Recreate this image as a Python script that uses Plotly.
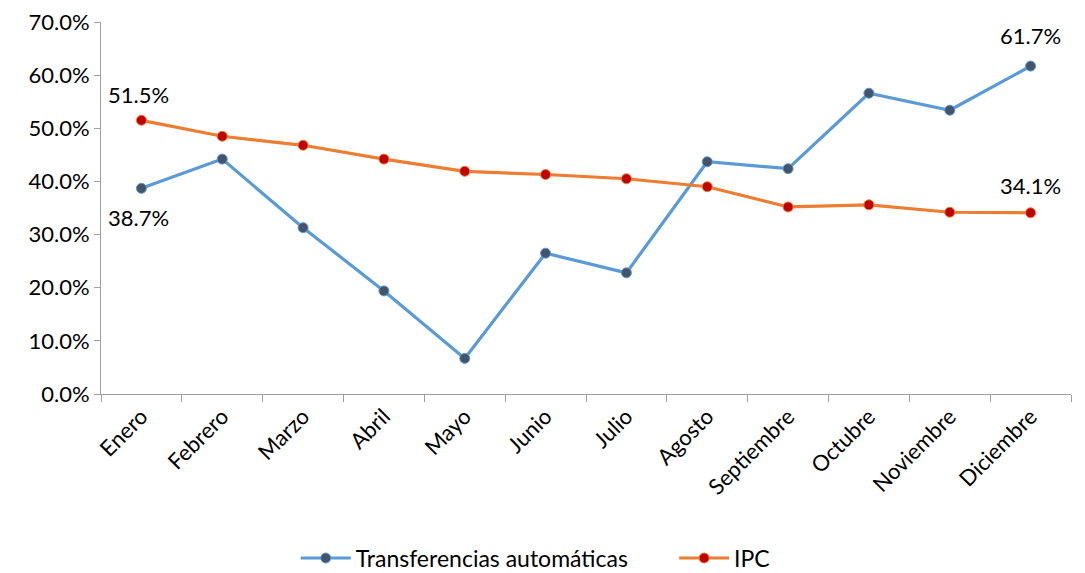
import plotly.graph_objects as go

months = ["Enero", "Febrero", "Marzo", "Abril", "Mayo", "Junio", "Julio",
          "Agosto", "Septiembre", "Octubre", "Noviembre", "Diciembre"]
transferencias = [38.7, 44.2, 31.3, 19.4, 6.7, 26.5, 22.8, 43.7, 42.4, 56.6, 53.4, 61.7]
ipc = [51.5, 48.5, 46.8, 44.2, 41.9, 41.3, 40.5, 39.0, 35.2, 35.6, 34.2, 34.1]
y_ticks = [0, 10, 20, 30, 40, 50, 60, 70]

FONT = "Lato"
FS = 22

fig = go.Figure()
fig.add_trace(go.Scatter(
    x=months, y=transferencias, name="Transferencias automáticas" + "\u00a0" * 7,
    mode="lines+markers",
    line=dict(color="#5B9BD5", width=3.2),
    marker=dict(color="#44546A", size=10, line=dict(color="#5B9BD5", width=1)),
    cliponaxis=False,
))
fig.add_trace(go.Scatter(
    x=months, y=ipc, name="IPC",
    mode="lines+markers",
    line=dict(color="#ED7D31", width=3.2),
    marker=dict(color="#C00000", size=10, line=dict(color="#ED7D31", width=1)),
    cliponaxis=False,
))

# data labels for first and last points
for vals, shifts in ((transferencias, (-29, 31)), (ipc, (26, 27))):
    for idx, ys in zip((0, len(months) - 1), shifts):
        fig.add_annotation(
            x=months[idx], y=vals[idx], text=f"{vals[idx]:.1f}%",
            showarrow=False, yshift=ys, xshift=-3 if idx == 0 else 0,
            font=dict(family=FONT, size=FS, color="#000000"),
        )

# page body has an 8px default margin; compensate so the plot lands where the reference has it
fig.update_layout(
    width=1077, height=565,
    margin=dict(l=93, r=14, t=14, b=179, autoexpand=False),
    plot_bgcolor="white", paper_bgcolor="white",
    font=dict(family=FONT, size=FS, color="#000000"),
    showlegend=True,
    legend=dict(orientation="h", x=0.49, xanchor="center", xref="container",
                y=-0.441, yanchor="middle", yref="paper",
                font=dict(family=FONT, size=23), entrywidth=0,
                itemwidth=50),
)
fig.update_xaxes(
    range=[-0.5, len(months) - 0.5],
    showline=True, linecolor="#A0A0A0", linewidth=1,
    ticks="outside", tickson="boundaries", ticklen=7, tickcolor="#A0A0A0",
    tickangle=-45, showgrid=False, tickfont=dict(family=FONT, size=FS),
    automargin=False,
)
fig.update_yaxes(
    range=[0, 70], tickvals=y_ticks, ticktext=[f"{v:.1f}%" for v in y_ticks],
    showline=True, linecolor="#A0A0A0", linewidth=1,
    ticks="outside", ticklen=6, tickcolor="#A0A0A0",
    showgrid=False, zeroline=False, tickfont=dict(family=FONT, size=FS),
    automargin=False, ticklabeloverflow="allow",
)

fig.write_html("out.html")
